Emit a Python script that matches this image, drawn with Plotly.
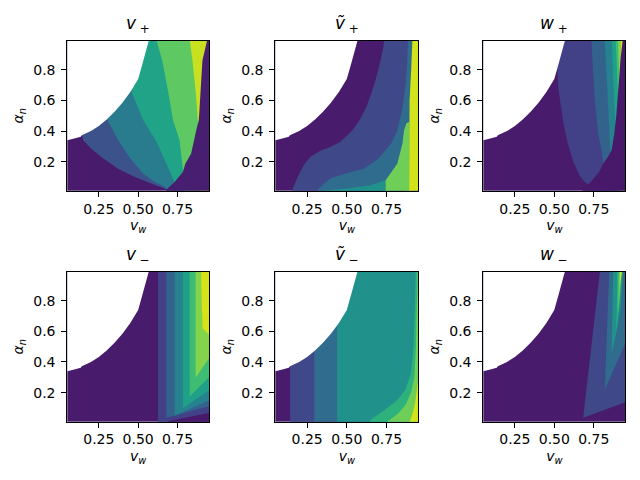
import plotly.graph_objects as go

# ---------------- axes / ticks ----------------
VW_RANGE = [0.05, 0.95]
ALPHA_RANGE = [0.01, 0.99]
X_TICK_VALS = [0.25, 0.50, 0.75]
X_TICK_TEXT = ["0.25", "0.50", "0.75"]
Y_TICK_VALS = [0.2, 0.4, 0.6, 0.8]
Y_TICK_TEXT = ["0.2", "0.4", "0.6", "0.8"]

PANEL_TITLES = ["<i>v</i><sub> +</sub>", "<i>ṽ</i><sub> +</sub>", "<i>w</i><sub> +</sub>",
                "<i>v</i><sub> −</sub>", "<i>ṽ</i><sub> −</sub>", "<i>w</i><sub> −</sub>"]
X_LABEL = "<i>v</i><sub><i>w</i></sub>"
Y_LABEL = "<i>α</i><sub><i>n</i></sub>"

# viridis level colours (contourf band colours)
VIRIDIS_6 = ["#481f70", "#3b528b", "#287c8e", "#20a386", "#5ec962", "#c8e020"]
VIRIDIS_7 = ["#481b6d", "#3f4889", "#2f6c8e", "#21918c", "#2db27d", "#6ece58", "#d2e21b"]
VIRIDIS_8 = ["#48186a", "#424086", "#33638d", "#26828e", "#1fa088", "#3fbc73", "#84d44b", "#d8e219"]

# boundary of the region with no solution (left-upper, blank)
NOSOL_VW = [0.0, 0.05, 0.10, 0.135, 0.142, 0.20, 0.25, 0.30, 0.35, 0.40, 0.45, 0.50, 0.53, 0.55, 0.567, 0.575, 0.0]
NOSOL_AL = [0.338, 0.340, 0.352, 0.362, 0.372, 0.40, 0.432, 0.475, 0.525, 0.585, 0.655, 0.74, 0.85, 0.92, 0.99, 1.05, 1.05]

# ---------------- v_+ : level regions (level index, vw, alpha) ----------------
VPLUS_LEVELS = [1, 2, 3, 4, 5, 0]
VPLUS_VW = [
    [0.10, 0.142, 0.151, 0.20, 0.266, 0.372, 0.478, 0.583, 0.668, 0.69, 0.69, 1.0, 1.0, 0.10],
    [0.26, 0.301, 0.373, 0.45, 0.531, 0.60, 0.668, 0.70, 0.70, 1.0, 1.0, 0.26],
    [0.40, 0.455, 0.532, 0.614, 0.68, 0.731, 0.76, 0.76, 1.0, 1.0, 0.40],
    [0.60, 0.617, 0.653, 0.69, 0.722, 0.763, 0.784, 0.80, 0.80, 1.0, 1.0],
    [0.82, 0.828, 0.845, 0.865, 0.88, 0.885, 0.885, 1.0, 1.0],
    [0.66, 0.68, 0.731, 0.784, 0.80, 0.836, 0.872, 0.885, 0.89, 0.90, 0.908, 0.917, 0.937, 0.94, 1.0, 1.0],
]
VPLUS_AL = [
    [0.55, 0.37, 0.339, 0.285, 0.23, 0.154, 0.10, 0.057, 0.024, 0.0, -0.05, -0.05, 1.05, 1.05],
    [0.56, 0.48, 0.339, 0.22, 0.122, 0.07, 0.035, 0.0, -0.05, -0.05, 1.05, 1.05],
    [0.80, 0.66, 0.47, 0.335, 0.184, 0.067, 0.0, -0.05, -0.05, 1.05, 1.05],
    [1.05, 0.99, 0.86, 0.66, 0.469, 0.339, 0.165, 0.0, -0.05, -0.05, 1.05],
    [1.05, 0.99, 0.86, 0.66, 0.469, 0.40, -0.05, -0.05, 1.05],
    [-0.05, 0.018, 0.067, 0.132, 0.187, 0.252, 0.42, 0.47, 0.55, 0.71, 0.86, 0.90, 0.99, 1.05, 1.05, -0.05],
]

# ---------------- tilde v_+ ----------------
VTPLUS_LEVELS = [1, 2, 3, 5, 6]
VTPLUS_VW = [
    [0.74, 0.735, 0.73, 0.71, 0.68, 0.649, 0.62, 0.58, 0.534, 0.46, 0.396, 0.33, 0.27, 0.23, 0.19, 0.154, 0.15, 1.0, 1.0],
    [0.89, 0.885, 0.88, 0.87, 0.85, 0.818, 0.78, 0.70, 0.607, 0.50, 0.397, 0.35, 0.312, 0.30, 1.0, 1.0],
    [0.36, 0.36, 0.50, 0.65, 0.744, 0.744],
    [0.744, 0.744, 0.78, 0.818, 0.85, 0.86, 0.875, 0.895, 0.895],
    [0.892, 0.892, 0.895, 0.905, 0.915, 0.915, 1.0, 1.0],
]
VTPLUS_AL = [
    [1.05, 0.99, 0.95, 0.85, 0.73, 0.63, 0.55, 0.47, 0.404, 0.33, 0.295, 0.27, 0.23, 0.18, 0.10, 0.01, -0.05, -0.05, 1.05],
    [1.05, 0.99, 0.85, 0.70, 0.55, 0.404, 0.32, 0.22, 0.154, 0.125, 0.089, 0.05, 0.01, -0.05, -0.05, 1.05],
    [-0.05, 0.012, 0.025, 0.045, 0.078, -0.05],
    [-0.05, 0.078, 0.13, 0.187, 0.317, 0.404, 0.45, 0.46, -0.05],
    [-0.05, 0.40, 0.60, 0.80, 0.99, 1.05, 1.05, -0.05],
]

# ---------------- w_+ ----------------
WPLUS_LEVELS = [1, 2, 3, 4, 5, 6, 7, 0]
WPLUS_VW = [
    [0.50, 0.52, 0.523, 0.535, 0.556, 0.585, 0.62, 0.66, 0.69, 0.715, 0.72, 1.0, 1.0],
    [0.73, 0.736, 0.745, 0.757, 0.778, 0.80, 0.81, 0.84, 1.0, 1.0],
    [0.815, 0.82, 0.835, 0.845, 0.855, 0.87, 1.0, 1.0],
    [0.862, 0.865, 0.875, 0.885, 0.89, 0.89, 1.0, 1.0],
    [0.887, 0.89, 0.898, 0.905, 0.905, 1.0, 1.0],
    [0.902, 0.905, 0.91, 0.913, 0.913, 1.0, 1.0],
    [0.918, 0.92, 0.925, 0.925, 1.0, 1.0],
    [0.66, 0.68, 0.731, 0.784, 0.81, 0.84, 0.863, 0.88, 0.893, 0.898, 0.905, 0.913, 0.92, 0.93, 0.936, 0.94, 1.0, 1.0],
]
WPLUS_AL = [
    [1.05, 0.80, 0.70, 0.60, 0.46, 0.32, 0.20, 0.11, 0.07, 0.05, -0.05, -0.05, 1.05],
    [1.05, 0.99, 0.80, 0.60, 0.382, 0.274, 0.187, -0.05, -0.05, 1.05],
    [1.05, 0.99, 0.70, 0.50, 0.34, -0.05, -0.05, 1.05],
    [1.05, 0.99, 0.70, 0.50, 0.40, -0.05, -0.05, 1.05],
    [1.05, 0.99, 0.75, 0.60, -0.05, -0.05, 1.05],
    [1.05, 0.99, 0.80, 0.65, -0.05, -0.05, 1.05],
    [1.05, 0.99, 0.92, -0.05, -0.05, 1.05],
    [-0.05, 0.018, 0.067, 0.132, 0.187, 0.23, 0.274, 0.38, 0.50, 0.556, 0.67, 0.773, 0.87, 0.95, 0.99, 1.05, 1.05, -0.05],
]

# ---------------- v_- ----------------
VMINUS_LEVELS = [1, 2, 3, 4, 5, 6, 7, 0]
VMINUS_VW = [
    [0.626, 0.626, 1.0, 1.0],
    [0.679, 0.679, 1.0, 1.0],
    [0.732, 0.732, 0.95, 1.0, 1.0],
    [0.784, 0.784, 0.95, 1.0, 1.0],
    [0.827, 0.827, 0.95, 1.0, 1.0],
    [0.865, 0.865, 0.95, 1.0, 1.0],
    [0.90, 0.90, 0.905, 0.91, 0.95, 1.0, 1.0],
    [0.68, 0.68, 0.69, 0.95, 1.0, 1.0],
]
VMINUS_AL = [
    [-0.05, 1.05, 1.05, -0.05],
    [1.05, 0.035, 0.124, 1.05],
    [1.05, 0.049, 0.15, 0.173, 1.05],
    [1.05, 0.098, 0.215, 0.25, 1.05],
    [1.05, 0.175, 0.30, 0.351, 1.05],
    [1.05, 0.299, 0.425, 0.499, 1.05],
    [1.05, 0.99, 0.75, 0.62, 0.58, 0.58, 1.05],
    [-0.05, 0.0, 0.012, 0.066, 0.077, -0.05],
]

# ---------------- tilde v_- ----------------
VTMINUS_LEVELS = [1, 2, 3, 4, 5, 6]
VTMINUS_VW = [
    [0.143, 0.143, 1.0, 1.0],
    [0.295, 0.295, 1.0, 1.0],
    [0.439, 0.439, 1.0, 1.0],
    [0.934, 0.934, 0.928, 0.92, 0.903, 0.87, 0.818, 0.73, 0.649, 0.64, 1.0, 1.0],
    [0.945, 0.945, 0.94, 0.935, 0.925, 0.905, 0.87, 0.82, 0.755, 0.75, 1.0, 1.0],
    [0.892, 0.892, 0.91, 0.93, 0.945, 0.95, 1.0, 1.0],
]
VTMINUS_AL = [
    [-0.05, 1.05, 1.05, -0.05],
    [-0.05, 1.05, 1.05, -0.05],
    [-0.05, 1.05, 1.05, -0.05],
    [1.05, 0.99, 0.76, 0.50, 0.326, 0.22, 0.152, 0.08, 0.022, -0.05, -0.05, 1.05],
    [1.05, 0.90, 0.75, 0.50, 0.30, 0.20, 0.12, 0.06, 0.01, -0.05, -0.05, 1.05],
    [-0.05, 0.0, 0.05, 0.13, 0.25, 0.30, 0.35, -0.05],
]

# ---------------- w_- ----------------
WMINUS_LEVELS = [1, 2, 3, 4, 5, 6]
WMINUS_VW = [
    [0.80, 0.789, 0.683, 0.947, 1.0, 1.0],
    [0.82, 0.845, 0.85, 1.0, 1.0, 0.95],
    [0.863, 0.872, 0.875, 0.94, 0.935, 0.92, 0.895],
    [0.894, 0.90, 0.90, 0.935, 0.93, 0.915],
    [0.905, 0.91, 0.91, 0.93, 0.925, 0.915],
    [0.915, 0.918, 0.918, 0.93, 0.928],
]
WMINUS_AL = [
    [1.05, 0.99, 0.035, 0.135, 0.155, 1.05],
    [0.218, 0.99, 1.05, 1.05, 0.64, 0.52],
    [0.45, 0.99, 1.05, 1.05, 0.99, 0.75, 0.60],
    [0.60, 0.99, 1.05, 1.05, 0.99, 0.80],
    [0.72, 0.99, 1.05, 1.05, 0.99, 0.85],
    [0.90, 0.99, 1.05, 1.05, 0.99],
]

PANELS = [
    (VPLUS_LEVELS, VPLUS_VW, VPLUS_AL, VIRIDIS_6),
    (VTPLUS_LEVELS, VTPLUS_VW, VTPLUS_AL, VIRIDIS_7),
    (WPLUS_LEVELS, WPLUS_VW, WPLUS_AL, VIRIDIS_8),
    (VMINUS_LEVELS, VMINUS_VW, VMINUS_AL, VIRIDIS_8),
    (VTMINUS_LEVELS, VTMINUS_VW, VTMINUS_AL, VIRIDIS_7),
    (WMINUS_LEVELS, WMINUS_VW, WMINUS_AL, VIRIDIS_7),
]

# ---------------- layout geometry (paper fractions) ----------------
COL_DOMAINS = [[0.1052, 0.3266], [0.4302, 0.6536], [0.7552, 0.9770]]
ROW_DOMAINS = [[0.6027, 0.9152], [0.1215, 0.4340]]

FONT = "DejaVu Sans"
fig = go.Figure()
layout = dict(width=640, height=480, margin=dict(l=0, r=0, t=0, b=0),
              paper_bgcolor="white", plot_bgcolor="#481b6d", showlegend=False,
              font=dict(family=FONT, size=14, color="black"))
annotations = []

for i, (levels, vws, als, cols) in enumerate(PANELS):
    n = "" if i == 0 else str(i + 1)
    xa, ya = "x" + n, "y" + n
    for lev, xs, ys in zip(levels, vws, als):
        fig.add_trace(go.Scatter(x=xs, y=ys, mode="lines", fill="toself",
                                 fillcolor=cols[lev], line=dict(width=0, color=cols[lev]),
                                 hoverinfo="skip", showlegend=False, xaxis=xa, yaxis=ya))
    fig.add_trace(go.Scatter(x=NOSOL_VW, y=NOSOL_AL, mode="lines", fill="toself",
                             fillcolor="white", line=dict(width=0, color="white"),
                             hoverinfo="skip", showlegend=False, xaxis=xa, yaxis=ya))
    row, col = divmod(i, 3)
    common = dict(showline=True, mirror=True, linecolor="black", linewidth=1,
                  ticks="outside", ticklen=5, tickwidth=1, tickcolor="black",
                  showgrid=False, zeroline=False,
                  tickfont=dict(family=FONT, size=14, color="black"))
    layout["xaxis" + n] = dict(common, domain=COL_DOMAINS[col], range=VW_RANGE,
                               tickvals=X_TICK_VALS, ticktext=X_TICK_TEXT, anchor=ya,
                               title=dict(text=X_LABEL, standoff=4,
                                          font=dict(family=FONT, size=14, color="black")))
    layout["yaxis" + n] = dict(common, domain=ROW_DOMAINS[row], range=ALPHA_RANGE,
                               tickvals=Y_TICK_VALS, ticktext=Y_TICK_TEXT, anchor=xa,
                               ticklabelstandoff=3,
                               title=dict(text=Y_LABEL, standoff=6,
                                          font=dict(family=FONT, size=14, color="black")))
    annotations.append(dict(text=PANEL_TITLES[i], xref="paper", yref="paper",
                            x=sum(COL_DOMAINS[col]) / 2, y=ROW_DOMAINS[row][1],
                            xanchor="center", yanchor="bottom", yshift=3, showarrow=False,
                            font=dict(family=FONT, size=17, color="black")))

layout["annotations"] = annotations
fig.update_layout(**layout)
fig.write_html("out.html")
